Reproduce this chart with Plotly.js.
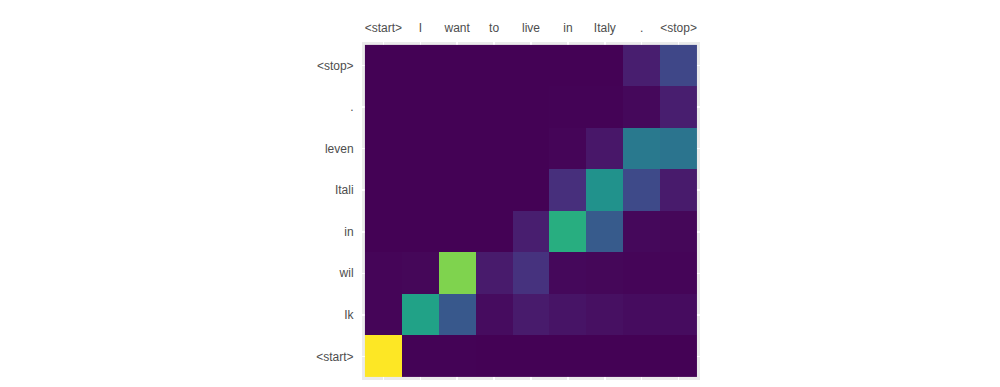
<!DOCTYPE html>
<html>
<head>
<meta charset="utf-8">
<script src="https://cdn.plot.ly/plotly-3.0.1.min.js"></script>
<style>html,body{margin:0;padding:0;background:#fff;}#chart{width:1000px;height:387px;}</style>
</head>
<body>
<div id="chart"></div>
<script>
// Source tokens (columns) and target tokens (rows, bottom to top)
const sourceTokens = ["<start>", "I", "want", "to", "live", "in", "Italy", ".", "<stop>"];
const targetTokens = ["<start>", "Ik", "wil", "in", "Itali", "leven", ".", "<stop>"];

// Attention weights, one array per target row
const rowStart = [0.99, 0.006, 0.006, 0.004, 0.004, 0.004, 0.004, 0.004, 0.004];
const rowIk    = [0.01, 0.57, 0.27, 0.03, 0.07, 0.05, 0.04, 0.03, 0.03];
const rowWil   = [0.01, 0.015, 0.80, 0.07, 0.14, 0.02, 0.015, 0.01, 0.01];
const rowIn    = [0.004, 0.004, 0.004, 0.004, 0.08, 0.62, 0.28, 0.02, 0.015];
const rowItali = [0.003, 0.003, 0.003, 0.003, 0.003, 0.13, 0.50, 0.22, 0.07];
const rowLeven = [0.002, 0.002, 0.002, 0.002, 0.002, 0.01, 0.06, 0.40, 0.38];
const rowDot   = [0.002, 0.002, 0.002, 0.002, 0.002, 0.005, 0.005, 0.02, 0.08];
const rowStop  = [0.002, 0.002, 0.002, 0.002, 0.002, 0.004, 0.004, 0.08, 0.21];

const z = [rowStart, rowIk, rowWil, rowIn, rowItali, rowLeven, rowDot, rowStop];

const trace = {
  type: "heatmap",
  z: z,
  x: sourceTokens,
  y: targetTokens,
  colorscale: "Viridis",
  zmin: 0,
  zmax: 0.99,
  showscale: false,
  hoverinfo: "x+y+z"
};

const layout = {
  width: 1000,
  height: 387,
  margin: {l: 362, r: 300, t: 42, b: 7},
  paper_bgcolor: "#ffffff",
  plot_bgcolor: "#ebebeb",
  font: {family: "Liberation Sans, Arial, sans-serif", size: 12, color: "#4d4d4d"},
  xaxis: {
    side: "top",
    type: "category",
    range: [-0.58, 8.58],
    showgrid: true,
    gridcolor: "#ffffff",
    gridwidth: 1.5,
    zeroline: false,
    ticks: "outside",
    ticklen: 4,
    tickcolor: "rgba(0,0,0,0)",
    tickfont: {size: 12, color: "#4d4d4d"},
    fixedrange: true
  },
  yaxis: {
    type: "category",
    range: [-0.57, 7.57],
    showgrid: true,
    gridcolor: "#ffffff",
    gridwidth: 1.5,
    zeroline: false,
    ticks: "outside",
    ticklen: 5,
    tickcolor: "rgba(0,0,0,0)",
    tickfont: {size: 12, color: "#4d4d4d"},
    fixedrange: true
  },
  showlegend: false
};

Plotly.newPlot("chart", [trace], layout, {displayModeBar: false, staticPlot: true});
</script>
</body>
</html>
